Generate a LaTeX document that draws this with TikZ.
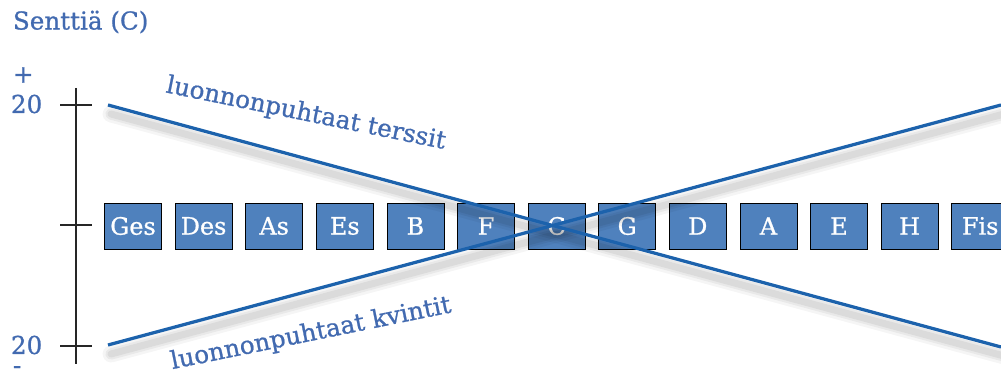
\documentclass[tikz,border=0pt]{standalone}
\usepackage{fontspec}
\setmainfont{DejaVu Serif}
\newfontfamily\heavyserif[FakeBold=0.9]{DejaVu Serif}
\definecolor{boxblue}{RGB}{79,129,189}
\definecolor{lineblue}{RGB}{28,98,172}
\definecolor{textblue}{RGB}{66,106,176}
\begin{document}
\begin{tikzpicture}[x=0.025cm,y=0.025cm,
                    note/.style = {draw=black,
                                fill=boxblue,
                                text=white,
                                inner sep=0pt,
                                minimum width=1.425cm,
                                minimum height=1.15cm,
                                font=\heavyserif\fontsize{17}{20}\selectfont},
                    tone/.style = {draw=lineblue,
                                line width=2.3pt},
                    shade/.style = {draw=black,
                                line cap=round},
                    caption/.style = {text=textblue,
                                font=\heavyserif\fontsize{17.5}{20}\selectfont},
                    axis/.style = {draw=black!85,
                                line width=1.1pt}]
                    \useasboundingbox (0,0) rectangle (1001,380);
                    % Title and scale marks
                    \node[caption,anchor=west] (title) at (8,358) {Senttiä (C)};
                    \node[caption,anchor=west] (plus) at (8,305) {+};
                    \node[caption,anchor=west] (top) at (6,276) {20};
                    \node[caption,anchor=west] (bottom) at (6,35) {20};
                    \node[caption,anchor=west] (minus) at (8,10) {-};
                    % Axis
                    \draw[axis] (76,292) -- (76,16);
                    \draw[axis] (60,275) -- (92,275);
                    \draw[axis] (60,155) -- (92,155);
                    \draw[axis] (60,34) -- (92,34);
                    % Circle of fifths
                    \foreach \name/\label [count=\i from 0] in
                        {ges/Ges,des/Des,as/As,es/Es,b/B,f/F,c/C,g/G,d/D,a/A,e/E,h/H,fis/Fis}
                        \node[note] (\name) at (133+70.6*\i,154) {\label};
                    % End points of the two lines
                    \coordinate (t1) at (108,275);
                    \coordinate (t2) at (1001,33);
                    \coordinate (k1) at (108,35);
                    \coordinate (k2) at (1001,275);
                    % Soft shadows under the lines
                    \foreach \w/\o in {12/0.04,8/0.05,5/0.06} {
                        \draw[shade,line width=\w pt,opacity=\o] ([shift={(3,-9)}]t1) -- ([shift={(3,-9)}]t2);
                        \draw[shade,line width=\w pt,opacity=\o] ([shift={(3,-9)}]k1) -- ([shift={(3,-9)}]k2);
                    }
                    % Pure thirds and pure fifths
                    \draw[tone] (t1) -- (t2);
                    \draw[tone] (k1) -- (k2);
                    \node[caption,rotate=-11.5] (thirds) at (306,266) {luonnonpuhtaat terssit};
                    \node[caption,rotate=11.5] (fifths) at (311,46) {luonnonpuhtaat kvintit};
                \end{tikzpicture}
\end{document}
